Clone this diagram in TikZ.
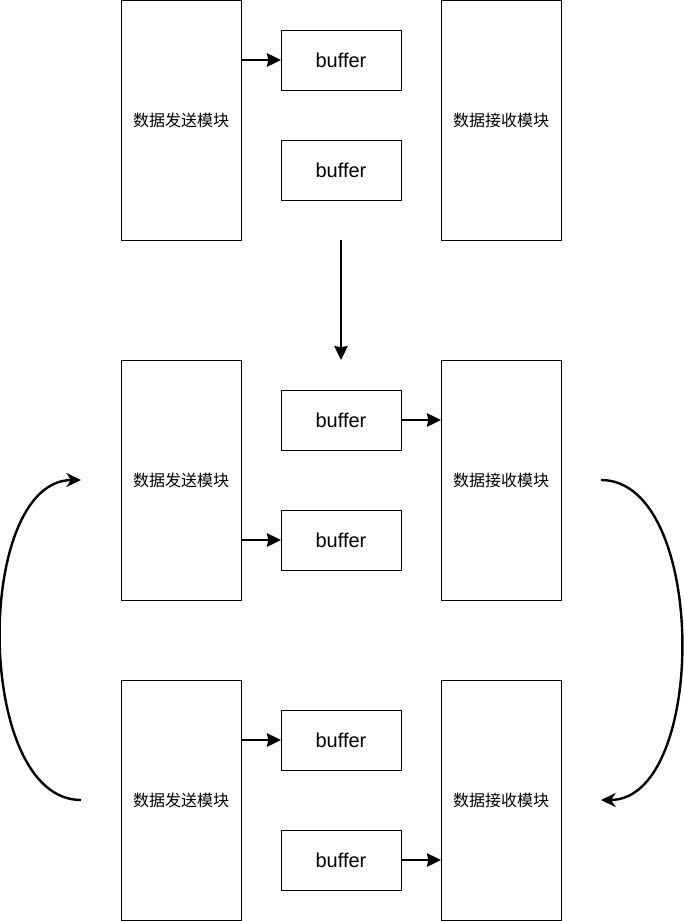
\documentclass[tikz,border=0pt]{standalone}
\usepackage{fontspec}
\setmainfont{Liberation Sans}
\newfontfamily\cjkfont{Noto Sans CJK SC}
\usetikzlibrary{arrows.meta,positioning,calc}
\newcommand{\cnlabel}[1]{{\cjkfont\fontsize{12}{14}\selectfont #1}}

\begin{document}
\begin{tikzpicture}
[x=.75pt,y=-.75pt,
edge/.style={black,line width=1.8pt,-{Stealth[length=10.5pt,width=10pt,inset=1pt]}},
loop/.style={black,line width=1.8pt,-{Stealth[length=11pt,width=10.5pt,inset=3.5pt]}},
block/.style={draw=black,line width=.75pt,minimum width=90pt,minimum height=180pt,inner sep=0pt,outer sep=0pt},
buf/.style={draw=black,line width=.75pt,minimum width=90pt,minimum height=45pt,inner sep=0pt,outer sep=0pt,font=\fontsize{15}{18}\selectfont}]
\useasboundingbox (0,0) rectangle (684,921);
%% first stage
\node[block] (snd1) at (181,120) {\cnlabel{数据发送模块}};
\node[block,right=150pt of snd1] (rcv1) {\cnlabel{数据接收模块}};
\node[buf] (buf11) at (341,60) {buffer};
\node[buf] (buf12) at (341,170) {buffer};
\draw[edge] (snd1.east |- buf11) -- (buf11.west);
%% second stage
\node[block] (snd2) at (181,480) {\cnlabel{数据发送模块}};
\node[block,right=150pt of snd2] (rcv2) {\cnlabel{数据接收模块}};
\node[buf] (buf21) at (341,420) {buffer};
\node[buf] (buf22) at (341,540) {buffer};
\draw[edge] (buf21.east) -- (buf21 -| rcv2.west);
\draw[edge] (snd2.east |- buf22) -- (buf22.west);
%% third stage
\node[block] (snd3) at (181,800) {\cnlabel{数据发送模块}};
\node[block,right=150pt of snd3] (rcv3) {\cnlabel{数据接收模块}};
\node[buf] (buf31) at (341,740) {buffer};
\node[buf] (buf32) at (341,860) {buffer};
\draw[edge] (snd3.east |- buf31) -- (buf31.west);
\draw[edge] (buf32.east) -- (buf32 -| rcv3.west);
%% transitions
\draw[edge] (buf12 |- snd1.south) -- (buf21 |- snd2.north);
\coordinate (lft3) at ($(snd3.west)+(-40,0)$);
\coordinate (lft2) at ($(snd2.west)+(-40,0)$);
\coordinate (rgt2) at ($(rcv2.east)+(40,0)$);
\coordinate (rgt3) at ($(rcv3.east)+(40,0)$);
\draw[loop] (lft3) .. controls (-26,800) and (-26,480) .. (lft2);
\draw[loop] (rgt2) .. controls (708,480) and (708,800) .. (rgt3);
\end{tikzpicture}
\end{document}
